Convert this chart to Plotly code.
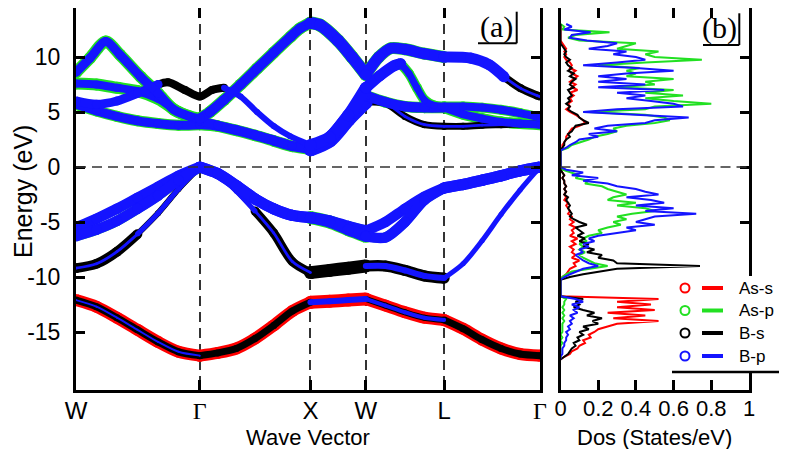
import numpy as np
import plotly.graph_objects as go

# ---------------- band structure data (k in units of 2pi/a) ----------------
kpath_pos = [0.0, 1.118, 2.118, 2.618, 3.325, 4.191]
kpath_lab = ["W", "<span style='font-family:Liberation Serif'>Γ</span>", "X", "W", "L",
             "<span style='font-family:Liberation Serif'>Γ</span>"]

k_std = [0.0, 0.185, 0.370, 0.555, 0.741, 0.926, 1.118,
         1.280, 1.448, 1.617, 1.786, 1.954, 2.118,
         2.291, 2.459, 2.618,
         2.795, 2.971, 3.147, 3.325,
         3.496, 3.668, 3.840, 4.011, 4.191]

# valence bands
v1_e = [-12.1, -12.7, -13.7, -14.8, -15.9, -16.8, -17.15,
        -16.9, -16.5, -15.6, -14.4, -13.1, -12.3,
        -12.2, -12.1, -12.0,
        -12.6, -13.2, -13.7, -13.9,
        -14.7, -15.7, -16.5, -17.0, -17.15]
v2_e = [-9.2, -8.8, -7.7, -6.1, -4.2, -2.0, 0.0,
        -0.7, -2.2, -4.0, -6.0, -8.6, -9.6,
        -9.4, -9.2, -9.0,
        -9.0, -9.4, -9.9, -10.1,
        -8.8, -6.7, -4.3, -2.1, 0.0]
v3_e = [-5.5, -4.7, -3.8, -2.8, -1.8, -0.8, 0.0,
        -0.6, -1.7, -2.9, -3.8, -4.4, -4.6,
        -4.9, -5.4, -5.8,
        -5.0, -3.8, -2.7, -1.9,
        -1.6, -1.2, -0.8, -0.35, 0.0]
v4_e = [-6.3, -5.7, -4.9, -3.8, -2.6, -1.2, 0.0,
        -0.6, -1.7, -2.9, -3.8, -4.4, -4.6,
        -5.0, -5.7, -6.3,
        -6.4, -5.0, -3.0, -1.9,
        -1.6, -1.2, -0.8, -0.35, 0.0]

# conduction bands
c1_e = [5.7, 5.1, 4.6, 4.2, 3.95, 3.8, 3.85,
        3.7, 3.3, 2.85, 2.35, 1.85, 1.6,
        2.4, 4.3, 5.9,
        5.8, 4.6, 3.85, 3.7,
        3.7, 3.8, 3.85, 3.9, 3.9]
c2_e = [7.6, 7.5, 7.2, 6.9, 6.2, 5.0, 4.2,
        3.8, 3.4, 2.95, 2.45, 1.95, 1.7,
        2.6, 4.6, 6.5,
        5.9, 5.5, 5.4, 5.4,
        4.8, 4.4, 4.1, 3.95, 3.85]
c3_k = [0.0, 0.185, 0.370, 0.555, 0.741, 0.831, 0.984, 1.118,
        1.228, 1.337, 1.487, 1.635, 1.788, 1.933, 2.118,
        2.291, 2.459, 2.618,
        2.745, 2.872, 2.932, 3.007, 3.079, 3.147, 3.233, 3.325,
        3.496, 3.668, 3.840, 4.011, 4.191]
c3_e = [6.0, 5.7, 6.0, 6.7, 7.5, 7.7, 7.0, 6.4,
        7.0, 7.2, 6.4, 5.0, 3.7, 2.8, 2.0,
        2.7, 4.7, 7.2,
        8.3, 9.2, 9.4, 8.5, 7.2, 6.1, 5.6, 5.5,
        5.5, 5.4, 5.2, 4.9, 4.5]
c4_k = [0.0, 0.126, 0.268, 0.397, 0.584, 0.741, 0.885, 1.030, 1.118,
        1.210, 1.337, 1.487, 1.635, 1.786, 1.939, 2.023, 2.118,
        2.204, 2.366, 2.493, 2.618,
        2.736, 2.844, 2.971, 3.147, 3.325,
        3.566, 3.731, 3.866, 4.017, 4.164, 4.191]
c4_e = [8.6, 9.9, 11.4, 10.2, 8.2, 6.7, 5.2, 4.6, 4.4,
        5.0, 6.1, 7.5, 8.95, 10.4, 11.85, 12.6, 13.1,
        12.9, 11.5, 10.0, 8.4,
        10.0, 10.8, 10.7, 10.3, 10.0,
        9.9, 9.3, 8.2, 7.15, 6.5, 6.4]

# orbital weights per band piece: (first idx, last idx, [As-s, As-p, B-s, B-p])
v1_w = [(0, 6, [0.86, 0, 0.5, 0.14]), (6, 12, [0.86, 0, 0.5, 0]),
        (12, 15, [0.93, 0, 0.29, 0.43]), (15, 19, [0.86, 0, 0.43, 0.29]),
        (19, 24, [0.86, 0, 0.5, 0])]
v2_w = [(0, 3, [0.07, 0.2, 0.7, 0.2]), (3, 6, [0.14, 0.35, 0.43, 0.36]),
        (6, 9, [0.2, 0.2, 0.3, 0.36]), (9, 12, [0.07, 0.36, 0.64, 0.2]),
        (12, 15, [0, 0, 0.93, 0]), (15, 19, [0, 0, 0.8, 0.43]),
        (19, 24, [0.2, 0.2, 0.2, 0.36])]
v3_w = [(0, 6, [0, 0.64, 0, 0.75]), (6, 12, [0, 0.7, 0, 0.8]),
        (12, 15, [0, 0.75, 0, 0.8]), (15, 19, [0, 0.6, 0, 0.75]),
        (19, 24, [0, 0.6, 0, 0.8])]
v4_w = [(0, 6, [0, 0.72, 0, 0.75]), (6, 12, [0, 0.7, 0, 0.8]),
        (12, 15, [0, 0.93, 0, 0.8]), (15, 19, [0, 0.7, 0, 0.75]),
        (19, 24, [0, 0.6, 0, 0.8])]
c1_w = [(0, 6, [0, 0.79, 0, 0.64]), (6, 12, [0, 0.79, 0, 0.64]),
        (12, 15, [0, 0.93, 0, 1.0]), (15, 19, [0.2, 0, 0.5, 0.2]),
        (19, 24, [0.14, 0.36, 0.5, 0.2])]
c2_w = [(0, 6, [0, 0.86, 0, 0.57]), (6, 12, [0, 0.7, 0, 0.64]),
        (12, 15, [0, 0.86, 0, 0.93]), (15, 19, [0, 0.79, 0, 0.71]),
        (19, 24, [0, 0.79, 0, 0.57])]
c3_w = [(0, 4, [0, 0.29, 0.14, 0.64]), (4, 9, [0.21, 0, 0.57, 0]),
        (9, 14, [0, 0.21, 0.29, 0.43]), (14, 17, [0, 0.71, 0, 0.86]),
        (17, 20, [0, 0, 0, 0.79]), (20, 25, [0, 0.71, 0, 0.5]),
        (25, 30, [0, 0.71, 0, 0.57])]
c4_w = [(0, 8, [0, 0.86, 0, 0.64]), (8, 16, [0, 0.86, 0, 0.71]),
        (16, 20, [0, 0.93, 0, 0.86]), (20, 25, [0, 0.86, 0.2, 0.79]),
        (25, 28, [0, 0.21, 0.14, 0.79]), (28, 31, [0.29, 0, 0.57, 0.2])]

# ---------------- DOS data (States/eV) ----------------
# upper block: 13.0 .. 1.5 eV, valence: -0.25 .. -10.25 eV, lower: -11.75 .. -17.5 eV
as_s_up = [0.0, 0.0, 0.0, 0.0, 0.0, 0.0, 0.0, 0.01, 0.02, 0.03, 0.02, 0.03, 0.02, 0.03,
           0.05, 0.06, 0.05, 0.08, 0.06, 0.09, 0.07, 0.05, 0.08, 0.06, 0.09, 0.05, 0.07,
           0.05, 0.06, 0.04, 0.05, 0.03, 0.05, 0.08, 0.10, 0.12, 0.13, 0.10, 0.06, 0.05,
           0.04, 0.03, 0.03, 0.02, 0.01, 0.01, 0.0]
as_p_up = [0.0, 0.02, 0.01, 0.26, 0.08, 0.04, 0.10, 0.40, 0.35, 0.30, 0.52, 0.45, 0.50,
           0.75, 0.45, 0.20, 0.42, 0.35, 0.40, 0.35, 0.60, 0.45, 0.50, 0.30, 0.60, 0.45,
           0.65, 0.45, 0.60, 0.80, 0.50, 0.45, 0.15, 0.45, 0.55, 0.58, 0.50, 0.35, 0.28,
           0.30, 0.25, 0.18, 0.15, 0.10, 0.06, 0.04, 0.0]
b_s_up = [0.0, 0.0, 0.0, 0.0, 0.0, 0.0, 0.0, 0.0, 0.01, 0.02, 0.03, 0.02, 0.03, 0.05,
          0.03, 0.04, 0.06, 0.04, 0.07, 0.05, 0.08, 0.06, 0.05, 0.07, 0.04, 0.05, 0.06,
          0.04, 0.05, 0.03, 0.05, 0.04, 0.06, 0.09, 0.10, 0.12, 0.15, 0.08, 0.07, 0.06,
          0.04, 0.05, 0.03, 0.02, 0.02, 0.01, 0.0]
b_p_up = [0.03, 0.06, 0.02, 0.16, 0.06, 0.05, 0.14, 0.30, 0.25, 0.15, 0.35, 0.28, 0.40,
          0.45, 0.30, 0.12, 0.40, 0.60, 0.35, 0.20, 0.35, 0.20, 0.45, 0.20, 0.55, 0.30,
          0.45, 0.35, 0.48, 0.60, 0.65, 0.30, 0.12, 0.40, 0.68, 0.50, 0.45, 0.25, 0.18,
          0.30, 0.15, 0.20, 0.10, 0.08, 0.05, 0.03, 0.0]

as_s_val = [0.0, 0.01, 0.02, 0.01, 0.02, 0.02, 0.03, 0.02, 0.03, 0.02, 0.03, 0.02, 0.04,
            0.03, 0.04, 0.05, 0.04, 0.06, 0.05, 0.07, 0.05, 0.08, 0.06, 0.07, 0.05, 0.09,
            0.06, 0.08, 0.05, 0.07, 0.06, 0.08, 0.06, 0.10, 0.07, 0.08, 0.05, 0.04, 0.03,
            0.01, 0.0]
as_p_val = [0.01, 0.06, 0.10, 0.08, 0.15, 0.13, 0.22, 0.25, 0.30, 0.35, 0.28, 0.25, 0.40,
            0.30, 0.45, 0.50, 0.38, 0.30, 0.35, 0.28, 0.32, 0.25, 0.20, 0.22, 0.15, 0.12,
            0.14, 0.10, 0.12, 0.10, 0.13, 0.10, 0.12, 0.15, 0.18, 0.25, 0.15, 0.06, 0.03,
            0.01, 0.0]
b_s_val = [0.0, 0.01, 0.02, 0.01, 0.02, 0.02, 0.03, 0.02, 0.03, 0.02, 0.04, 0.03, 0.04,
           0.05, 0.04, 0.05, 0.06, 0.05, 0.07, 0.10, 0.14, 0.08, 0.10, 0.12, 0.09, 0.13,
           0.10, 0.15, 0.12, 0.18, 0.14, 0.22, 0.20, 0.28, 0.30, 0.74, 0.30, 0.20, 0.12,
           0.05, 0.0]
b_p_val = [0.03, 0.12, 0.06, 0.20, 0.12, 0.25, 0.30, 0.40, 0.45, 0.52, 0.35, 0.48, 0.55,
           0.40, 0.60, 0.45, 0.72, 0.50, 0.45, 0.40, 0.50, 0.35, 0.40, 0.30, 0.20, 0.15,
           0.18, 0.12, 0.15, 0.10, 0.12, 0.08, 0.10, 0.12, 0.15, 0.20, 0.12, 0.08, 0.05,
           0.02, 0.0]

as_s_low = [0.0, 0.52, 0.30, 0.48, 0.30, 0.50, 0.25, 0.45, 0.28, 0.52, 0.30, 0.25, 0.20,
            0.18, 0.15, 0.16, 0.12, 0.13, 0.10, 0.09, 0.06, 0.05, 0.02, 0.0]
as_p_low = [0.0, 0.03, 0.02, 0.02, 0.01, 0.02, 0.01, 0.02, 0.01, 0.02, 0.01, 0.01, 0.01,
            0.01, 0.0, 0.01, 0.0, 0.01, 0.0, 0.0, 0.0, 0.0, 0.0, 0.0]
b_s_low = [0.0, 0.12, 0.08, 0.10, 0.07, 0.12, 0.18, 0.14, 0.22, 0.17, 0.20, 0.12, 0.15,
           0.10, 0.12, 0.09, 0.10, 0.07, 0.08, 0.06, 0.05, 0.04, 0.02, 0.0]
b_p_low = [0.0, 0.08, 0.12, 0.06, 0.10, 0.07, 0.09, 0.05, 0.07, 0.05, 0.06, 0.04, 0.05,
           0.03, 0.04, 0.03, 0.03, 0.02, 0.02, 0.01, 0.01, 0.01, 0.0, 0.0]

orbitals = ["As-s", "As-p", "B-s", "B-p"]
colors = ["#ff0000", "#22e022", "#000000", "#1414ff"]
FAT = 14

e_dos = np.round(np.arange(13.0, -17.51, -0.25), 2)
dos = [as_s_up + [0.0] * 6 + as_s_val + [0.0] * 5 + as_s_low,
       as_p_up + [0.0] * 6 + as_p_val + [0.0] * 5 + as_p_low,
       b_s_up + [0.0] * 6 + b_s_val + [0.0] * 5 + b_s_low,
       b_p_up + [0.0] * 6 + b_p_val + [0.0] * 5 + b_p_low]

bands = [(k_std, v1_e, v1_w), (k_std, v2_e, v2_w), (k_std, v3_e, v3_w), (k_std, v4_e, v4_w),
         (k_std, c1_e, c1_w), (k_std, c2_e, c2_w), (c3_k, c3_e, c3_w), (c4_k, c4_e, c4_w)]

fig = go.Figure()

# fat bands, orbital by orbital (markers round off the joints between pieces)
for j in range(4):
    for kk, ee, pieces in bands:
        for i0, i1, w in pieces:
            if w[j] <= 0:
                continue
            fig.add_trace(go.Scatter(
                x=kk[i0:i1 + 1], y=ee[i0:i1 + 1], mode="lines+markers",
                line=dict(color=colors[j], width=w[j] * FAT, shape="spline", smoothing=0.8),
                marker=dict(color=colors[j], size=w[j] * FAT, line=dict(width=0)),
                showlegend=False, hoverinfo="skip", xaxis="x", yaxis="y"))

# DOS
for j in range(4):
    fig.add_trace(go.Scatter(x=dos[j], y=e_dos, mode="lines",
                             line=dict(color=colors[j], width=2),
                             showlegend=False, hoverinfo="skip", xaxis="x2", yaxis="y2"))

# page offset of the figure inside the html body
OFF = 8.0
FW, FH = 779, 441
PH = 382.0


def px(x):
    return (x - OFF) / FW


def py(y):
    return (390.0 - y) / PH


axis_common = dict(showline=True, linewidth=3, linecolor="black", ticks="inside",
                   tickwidth=3, tickcolor="black", zeroline=False, automargin=False)
yrange = [(167 - 390) / 11.0, (167 - OFF) / 11.0]

fig.update_layout(
    width=FW, height=FH,
    margin=dict(l=0, r=0, t=0, b=FH - 382),
    paper_bgcolor="white", plot_bgcolor="white", showlegend=False,
    font=dict(family="Liberation Sans, Arial, sans-serif", size=22, color="black"),
    xaxis=dict(domain=[px(76), px(540)], range=[0, 4.191], anchor="y",
               tickmode="array", tickvals=kpath_pos, ticktext=kpath_lab,
               ticklen=10, mirror="ticks", tickfont=dict(size=24), ticklabelstandoff=-3,
               showgrid=True, gridcolor="#333333", gridwidth=1.6, griddash="10px,6px",
               **axis_common),
    yaxis=dict(domain=[0, 1], range=yrange, anchor="x",
               tickmode="array", tickvals=[-15, -10, -5, 0, 5, 10],
               ticktext=["-15", "-10", "-5", "0", "5", "10"],
               ticklen=9, mirror="ticks", tickfont=dict(size=23), ticklabelstandoff=8,
               showgrid=False, **axis_common),
    xaxis2=dict(domain=[px(560.5), px(749)], range=[0, 1], anchor="y2",
                tickmode="array", tickvals=[0, 0.2, 0.4, 0.6, 0.8, 1],
                ticktext=["0", "0.2", "0.4", "0.6", "0.8", "1"],
                ticklen=10, mirror="ticks", tickfont=dict(size=22), ticklabelstandoff=-3,
                showgrid=False, **axis_common),
    yaxis2=dict(domain=[0, 1], range=yrange, anchor="x2", side="right",
                tickmode="array", tickvals=[-15, -10, -5, 0, 5, 10],
                showticklabels=False, ticklen=9, mirror=True, showgrid=False,
                **axis_common),
)

shapes = []
dash = dict(color="#333333", width=1.6, dash="10px,6px")
shapes.append(dict(type="line", xref="x domain", yref="y", x0=0, x1=1, y0=0, y1=0, line=dash))
shapes.append(dict(type="line", xref="x2 domain", yref="y2", x0=0, x1=1, y0=0, y1=0, line=dash))

# panel label boxes (shadow style)
for xl, xr, yt, yb in [(478, 516.7, 11.7, 43.3), (703, 739.3, 13.3, 45)]:
    shapes.append(dict(type="line", xref="paper", yref="paper", x0=px(xr), x1=px(xr),
                       y0=py(yt), y1=py(yb), line=dict(color="black", width=2)))
    shapes.append(dict(type="line", xref="paper", yref="paper", x0=px(xl), x1=px(xr),
                       y0=py(yb), y1=py(yb), line=dict(color="black", width=2)))

# legend box
shapes.append(dict(type="rect", xref="paper", yref="paper", x0=px(671), x1=px(785),
                   y0=py(276), y1=py(372), fillcolor="white", line=dict(width=0),
                   layer="above"))
shapes.append(dict(type="line", xref="paper", yref="paper", x0=px(785), x1=px(785),
                   y0=py(280), y1=py(372), line=dict(color="black", width=2.5), layer="above"))
shapes.append(dict(type="line", xref="paper", yref="paper", x0=px(672), x1=px(785),
                   y0=py(372), y1=py(372), line=dict(color="black", width=2.5), layer="above"))

annotations = []
for j, (name, ry) in enumerate(zip(orbitals, [288, 310.5, 333, 356])):
    shapes.append(dict(type="circle", xref="paper", yref="paper",
                       x0=px(680.5), x1=px(689.5), y0=py(ry - 4.5), y1=py(ry + 4.5),
                       line=dict(color=colors[j], width=2), layer="above"))
    shapes.append(dict(type="line", xref="paper", yref="paper", x0=px(702), x1=px(723),
                       y0=py(ry), y1=py(ry), line=dict(color=colors[j], width=4),
                       layer="above"))
    annotations.append(dict(text=name, xref="paper", yref="paper", x=px(737), y=py(ry),
                            xanchor="left", yanchor="middle", showarrow=False,
                            font=dict(size=17)))

annotations += [
    dict(text="Energy (eV)", xref="paper", yref="paper", x=px(23), y=py(192),
         textangle=-90, showarrow=False, xanchor="center", yanchor="middle",
         font=dict(size=25)),
    dict(text="Wave Vector", xref="paper", yref="paper", x=px(308), y=py(437),
         showarrow=False, xanchor="center", yanchor="middle", font=dict(size=22)),
    dict(text="Dos (States/eV)", xref="paper", yref="paper", x=px(654), y=py(437),
         showarrow=False, xanchor="center", yanchor="middle", font=dict(size=22)),
    dict(text="(a)", xref="paper", yref="paper", x=px(496), y=py(27), showarrow=False,
         xanchor="center", yanchor="middle",
         font=dict(size=30, family="Liberation Serif, Times New Roman, serif")),
    dict(text="(b)", xref="paper", yref="paper", x=px(719), y=py(28), showarrow=False,
         xanchor="center", yanchor="middle",
         font=dict(size=30, family="Liberation Serif, Times New Roman, serif")),
]

fig.update_layout(shapes=shapes, annotations=annotations)

fig.write_html("out.html")
